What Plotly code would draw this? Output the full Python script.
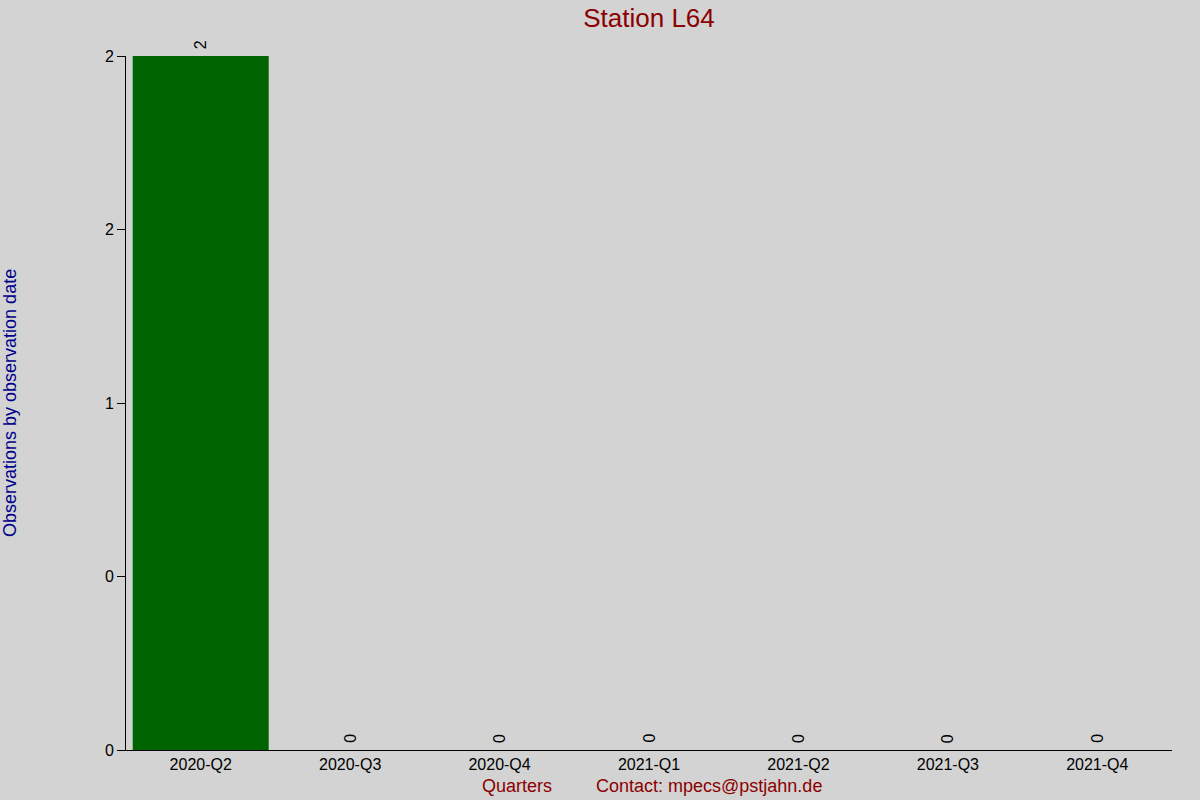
import plotly.graph_objects as go

quarters = ["2020-Q2", "2020-Q3", "2020-Q4", "2021-Q1", "2021-Q2", "2021-Q3", "2021-Q4"]
observations = [2, 0, 0, 0, 0, 0, 0]
y_tickvals = [0, 0.5, 1, 1.5, 2]
y_ticktext = ["0", "0", "1", "2", "2"]

FONT = "Liberation Sans, Arial, sans-serif"
BG = "#D3D3D3"
W, H = 1200, 800
L, R, T, B = 126, 28, 56, 50
PW, PH = W - L - R, H - T - B


def px_to_paper(px, py):
    return (px - L) / PW, (H - B - py) / PH


qx, qy = px_to_paper(517, 786)
cx, cy = px_to_paper(709, 786)
yx, yy = px_to_paper(10, 403)

fig = go.Figure()
fig.add_trace(go.Bar(
    x=quarters,
    y=observations,
    marker=dict(color="#006400", line=dict(width=0)),
    hoverinfo="skip",
))

value_labels = [
    dict(text=str(v), x=q, y=v, xref="x", yref="y",
         xanchor="center", yanchor="bottom", yshift=5, showarrow=False,
         textangle=-90, font=dict(family=FONT, size=16, color="black"))
    for q, v in zip(quarters, observations)
]

fig.update_layout(
    width=W, height=H,
    paper_bgcolor=BG, plot_bgcolor=BG,
    margin=dict(l=L, r=R, t=T, b=B),
    bargap=0.09,
    showlegend=False,
    font=dict(family=FONT, size=16, color="black"),
    title=dict(text="Station L64", x=649/W, xanchor="center", y=1-18/H, yanchor="middle",
               font=dict(family=FONT, size=26, color="#8B0000")),
    xaxis=dict(
        type="category", range=[-0.5, 6.5],
        showline=True, linecolor="black", linewidth=1,
        showgrid=False, zeroline=False, ticks="",
        tickfont=dict(family=FONT, size=16, color="black"),
        fixedrange=True,
    ),
    yaxis=dict(
        range=[0, 2],
        tickvals=y_tickvals, ticktext=y_ticktext,
        showline=True, linecolor="black", linewidth=1,
        ticks="outside", ticklen=8, tickcolor="black", tickwidth=1,
        showgrid=False, zeroline=False,
        tickfont=dict(family=FONT, size=16, color="black"),
        fixedrange=True,
    ),
    annotations=value_labels + [
        dict(text="Quarters", x=qx, y=qy, xref="paper", yref="paper",
             xanchor="center", yanchor="middle", showarrow=False,
             font=dict(family=FONT, size=18, color="#8B0000")),
        dict(text="Contact: mpecs@pstjahn.de", x=cx, y=cy, xref="paper", yref="paper",
             xanchor="center", yanchor="middle", showarrow=False,
             font=dict(family=FONT, size=18, color="#8B0000")),
        dict(text="Observations by observation date", x=yx, y=yy, xref="paper", yref="paper",
             xanchor="center", yanchor="middle", showarrow=False, textangle=-90,
             font=dict(family=FONT, size=18, color="#00008B")),
    ],
)

fig.write_html("out.html", config={"displayModeBar": False},
               post_script="document.body.style.margin='0';document.body.style.padding='0';")
